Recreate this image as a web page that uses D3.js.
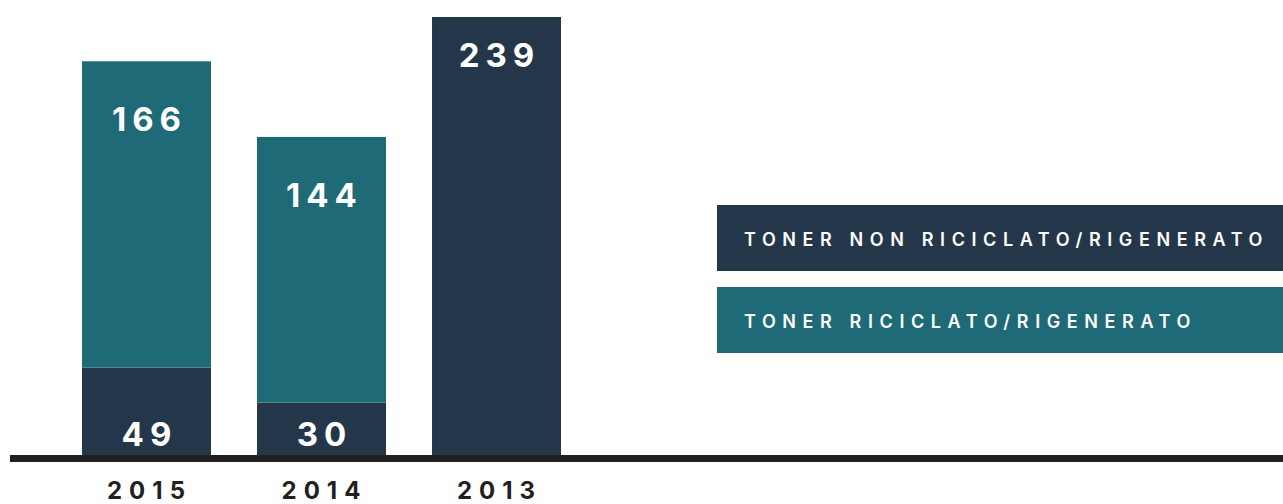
<!DOCTYPE html>
<html>
<head>
<meta charset="utf-8">
<script src="https://cdn.jsdelivr.net/npm/d3@7"></script>
<style>
  body { margin: 0; background: #fff; }
  svg { display: block; }
</style>
</head>
<body>
<div id="chart"></div>
<script>
// Toner: riciclato vs non riciclato per anno
const years = ["2015", "2014", "2013"];
const nonRiciclato = [49, 30, 239];
const riciclato = [166, 144, 0];
const legendLabels = ["TONER NON RICICLATO/RIGENERATO", "TONER RICICLATO/RIGENERATO"];

const W = 1283, H = 504;
const dark = "#243649", teal = "#1e6a76", ink = "#231f20";
const font = "Inter, 'Open Sans', sans-serif";

const svg = d3.select("#chart").append("svg").attr("width", W).attr("height", H);

const data = years.map((y, i) => ({year: y, non: nonRiciclato[i], ric: riciclato[i]}));
const stack = d3.stack().keys(["non", "ric"])(data);

const x = d3.scaleBand().domain(years).range([82, 561]).paddingInner(0.263).paddingOuter(0);
const y = d3.scaleLinear().domain([0, 239]).range([458, 17]);
const color = {non: dark, ric: teal};

stack.forEach(layer => {
  svg.append("g").selectAll("rect").data(layer.filter(d => d[1] > d[0])).join("rect")
    .attr("x", d => x(d.data.year))
    .attr("y", d => y(d[1]))
    .attr("width", x.bandwidth())
    .attr("height", d => y(d[0]) - y(d[1]))
    .attr("fill", color[layer.key]);
});

// value labels
const labels = [];
data.forEach(d => {
  if (d.ric > 0) {
    labels.push({year: d.year, v: d.ric, yy: y(d.non + d.ric) + 70});
    labels.push({year: d.year, v: d.non, yy: y(0) - 12});
  } else {
    labels.push({year: d.year, v: d.non, yy: y(d.non) + 50});
  }
});
svg.append("g").selectAll("text").data(labels).join("text")
  .attr("x", d => x(d.year) + x.bandwidth() / 2 + 3)
  .attr("y", d => d.yy)
  .attr("text-anchor", "middle")
  .attr("fill", "#fff")
  .style("font-family", font).style("font-weight", 700)
  .style("font-size", "33px").style("letter-spacing", "6px")
  .text(d => d.v);

// baseline
svg.append("line").attr("x1", 10).attr("x2", W).attr("y1", 458.5).attr("y2", 458.5)
  .attr("stroke", ink).attr("stroke-width", 7);

// year labels
svg.append("g").selectAll("text").data(years).join("text")
  .attr("x", d => x(d) + x.bandwidth() / 2 + 3)
  .attr("y", 499)
  .attr("text-anchor", "middle")
  .attr("fill", ink)
  .style("font-family", font).style("font-weight", 700)
  .style("font-size", "24px").style("letter-spacing", "7px")
  .text(d => d);

// legend
const lg = svg.append("g").attr("transform", "translate(717,205)");
const items = lg.selectAll("g").data(legendLabels).join("g")
  .attr("transform", (d, i) => `translate(0,${i * 82})`);
items.append("rect").attr("width", W - 717).attr("height", 66)
  .attr("fill", (d, i) => i === 0 ? dark : teal);
items.append("text").attr("x", 27).attr("y", 41)
  .attr("fill", "#fff")
  .style("font-family", font).style("font-weight", 600)
  .style("font-size", "18px").style("letter-spacing", "6.6px")
  .text(d => d);
</script>
</body>
</html>
